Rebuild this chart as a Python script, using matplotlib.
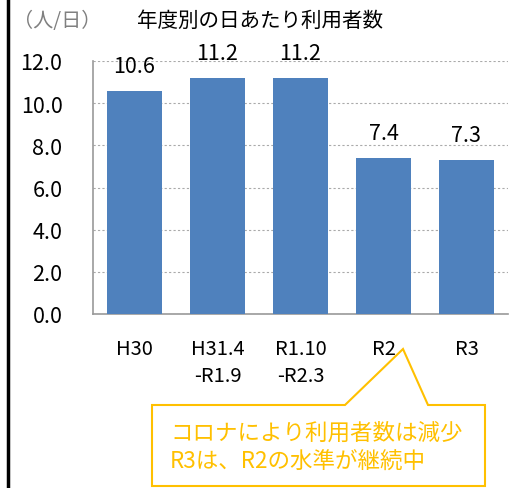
import matplotlib.pyplot as plt
from matplotlib.patches import Polygon
from matplotlib.lines import Line2D

plt.rcParams['font.family'] = ['Noto Sans CJK JP', 'DejaVu Sans']

categories = ['H30', 'H31.4\n-R1.9', 'R1.10\n-R2.3', 'R2', 'R3']
users_per_day = [10.6, 11.2, 11.2, 7.4, 7.3]
y_ticks = [0, 2, 4, 6, 8, 10, 12]

bar_color = '#4F81BD'
note_color = '#FFC000'

W, H = 510, 489
fig = plt.figure(figsize=(W / 100, H / 100), dpi=100)
ax = fig.add_axes([93 / W, 1 - 315 / H, 415 / W, 253 / H])

x = range(len(categories))
bars = ax.bar(x, users_per_day, width=0.66, color=bar_color, zorder=3)
for b, v in zip(bars, users_per_day):
    ax.annotate(f'{v:.1f}', (b.get_x() + b.get_width() / 2, v),
                xytext=(0, 13.5), textcoords='offset points',
                ha='center', va='baseline', fontsize=15.5, color='black')

ax.set_xlim(-0.5, len(categories) - 0.5)
ax.set_ylim(0, 12)
ax.set_yticks(y_ticks)
ax.set_yticklabels([f'{t:.1f}' for t in y_ticks], fontsize=15.5)
ax.set_xticks(list(x))
ax.set_xticklabels(categories, fontsize=14.5, linespacing=1.42)
ax.tick_params(axis='y', length=0, pad=22)
ax.tick_params(axis='x', length=0, pad=17)
ax.yaxis.grid(True, linestyle=(0, (2, 2)), color='#AAAAAA', linewidth=0.8, zorder=0)
for s in ['top', 'right']:
    ax.spines[s].set_visible(False)
ax.spines['left'].set_color('#999999')
ax.spines['bottom'].set_color('#999999')
ax.spines['left'].set_linewidth(1.2)
ax.spines['bottom'].set_linewidth(1.2)

# title
fig.text(13 / W, 1 - 21 / H, '（人/日）', fontsize=14.5, color='#808080', va='center', ha='left')
fig.text(137 / W, 1 - 21 / H, '年度別の日あたり利用者数', fontsize=14.8, color='black', va='center', ha='left')

# left black border line
fig.add_artist(Line2D([8 / W, 8 / W], [0, 1], color='black', linewidth=2.5))

# callout
pts = [(152, 406), (345, 406), (403, 350), (428, 406), (485, 406), (485, 487), (152, 487)]
poly = Polygon([(px / W, 1 - py / H) for px, py in pts], closed=True,
               facecolor='white', edgecolor=note_color, linewidth=1.5,
               transform=fig.transFigure)
fig.add_artist(poly)
fig.text(170 / W, 1 - 447 / H, 'コロナにより利用者数は減少\nR3は、R2の水準が継続中',
         fontsize=16.2, color=note_color, va='center', ha='left', linespacing=1.3)

fig.savefig('out.png', dpi=100)
